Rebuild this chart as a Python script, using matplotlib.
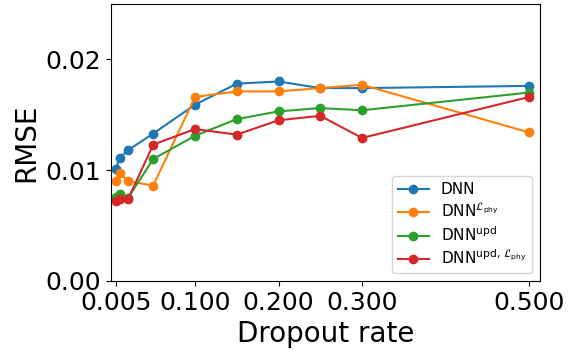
import numpy as np
import matplotlib
matplotlib.use('Agg')
import matplotlib.pyplot as plt

# dropout rates and RMSE
dropout = [0.005, 0.01, 0.02, 0.05, 0.1, 0.15, 0.2, 0.25, 0.3, 0.5]
rmse_dnn = [0.0101, 0.0111, 0.0118, 0.0133, 0.0159, 0.0178, 0.0180, 0.0174, 0.0174, 0.0176]
rmse_dnn_phy = [0.0090, 0.0097, 0.0090, 0.0086, 0.0166, 0.0171, 0.0171, 0.0174, 0.0177, 0.0134]
rmse_upd = [0.0076, 0.0078, 0.0075, 0.0110, 0.0131, 0.0146, 0.0153, 0.0156, 0.0154, 0.0170]
rmse_upd_phy = [0.0072, 0.0074, 0.0074, 0.0123, 0.0137, 0.0132, 0.0145, 0.0149, 0.0129, 0.0166]

labels = ['DNN', r'DNN$^{\mathcal{L}_{\rm phy}}$', r'DNN$^{\rm upd}$',
          r'DNN$^{{\rm upd},\,\mathcal{L}_{\rm phy}}$']
xticks = [0.005, 0.1, 0.2, 0.3, 0.5]
xticklabels = ['0.005', '0.100', '0.200', '0.300', '0.500']
yticks = [0.0, 0.01, 0.02]

fig = plt.figure(figsize=(5.69, 3.56), dpi=100)
ax = fig.add_axes([0.195, 0.211, 0.754, 0.778])

for y, lab in zip([rmse_dnn, rmse_dnn_phy, rmse_upd, rmse_upd_phy], labels):
    ax.plot(dropout, y, marker='o', lw=1.5, ms=6, label=lab)

ax.set_xlim(-0.0006, 0.513)
ax.set_ylim(0, 0.025)
ax.set_xticks(xticks)
ax.set_xticklabels(xticklabels)
ax.set_yticks(yticks)
ax.set_yticklabels(['0.00', '0.01', '0.02'])
ax.tick_params(labelsize=18)
ax.set_xlabel('Dropout rate', fontsize=20)
ax.set_ylabel('RMSE', fontsize=20)
ax.legend(loc='lower right', fontsize=11, labelspacing=0.3)

fig.savefig('out.png', dpi=100)
